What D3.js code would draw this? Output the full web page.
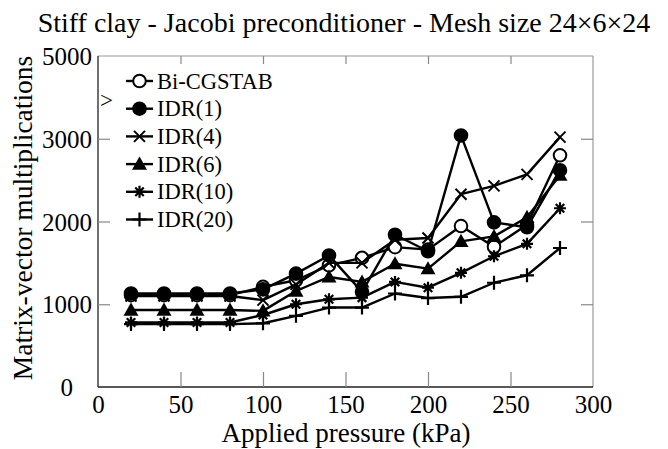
<!DOCTYPE html>
<html>
<head>
<meta charset="utf-8">
<script src="https://cdn.jsdelivr.net/npm/d3@7"></script>
<style>
  body { margin: 0; background: #fff; }
  svg { display: block; }
</style>
</head>
<body>
<svg id="chart" width="668" height="449"></svg>
<script>
// Applied pressure (kPa)
const pressures = [20, 40, 60, 80, 100, 120, 140, 160, 180, 200, 220, 240, 260, 280];

// Matrix-vector multiplications per method
const biCgstab = [1110, 1110, 1110, 1110, 1210, 1290, 1470, 1560, 1690, 1660, 1945, 1695, 1960, 2800];
const idr1 = [1130, 1130, 1130, 1130, 1180, 1370, 1590, 1150, 1840, 1640, 3040, 1990, 1930, 2620];
const idr4 = [1100, 1100, 1100, 1100, 1050, 1240, 1500, 1500, 1780, 1800, 2330, 2430, 2570, 3020];
const idr6 = [930, 930, 930, 930, 920, 1160, 1330, 1270, 1490, 1430, 1760, 1820, 2050, 2560];
const idr10 = [780, 780, 780, 780, 870, 1000, 1060, 1080, 1270, 1200, 1380, 1580, 1730, 2160];
const idr20 = [760, 760, 760, 760, 770, 860, 960, 960, 1130, 1075, 1090, 1260, 1350, 1680];

const seriesNames = ["Bi-CGSTAB", "IDR(1)", "IDR(4)", "IDR(6)", "IDR(10)", "IDR(20)"];
const seriesValues = [biCgstab, idr1, idr4, idr6, idr10, idr20];
const seriesMarkers = ["openCircle", "circle", "cross", "triangle", "star", "plus"];

const xTicks = [0, 50, 100, 150, 200, 250, 300];
const yTicks = [0, 1000, 2000, 3000, 4000];
const yTickLabels = ["0", "1000", "2000", "3000", "5000"]; // as printed on the original

const fontFamily = "Liberation Serif, Times New Roman, serif";

const margin = { left: 98, right: 75, top: 56, bottom: 62 };
const width = 668, height = 449;

const svg = d3.select("#chart").style("font-family", fontFamily);

const x = d3.scaleLinear().domain([0, 300]).range([margin.left, width - margin.right]);
const y = d3.scaleLinear().domain([0, 4000]).range([height - margin.bottom, margin.top]);

// frame (top and right in grey)
const frame = svg.append("g");
frame.append("line").attr("x1", x(0)).attr("x2", x(300)).attr("y1", y(4000)).attr("y2", y(4000))
  .attr("stroke", "#999").attr("stroke-width", 1.2);
frame.append("line").attr("x1", x(300)).attr("x2", x(300)).attr("y1", y(4000)).attr("y2", y(0))
  .attr("stroke", "#999").attr("stroke-width", 1.2);

// axes with inward ticks
const xAxisB = d3.axisBottom(x).tickValues(xTicks).tickSize(-15).tickPadding(8);
const gx = svg.append("g").attr("transform", `translate(0,${y(0)})`).call(xAxisB);
const xAxisT = d3.axisTop(x).tickValues(xTicks).tickSize(-8).tickFormat("");
const gxt = svg.append("g").attr("transform", `translate(0,${y(4000)})`).call(xAxisT);

const yAxisL = d3.axisLeft(y).tickValues(yTicks).tickSize(-12).tickPadding(6)
  .tickFormat((d, i) => yTickLabels[i]);
const gy = svg.append("g").attr("transform", `translate(${x(0)},0)`).call(yAxisL);
const yAxisR = d3.axisRight(y).tickValues(yTicks).tickSize(-12).tickFormat("");
const gyr = svg.append("g").attr("transform", `translate(${x(300)},0)`).call(yAxisR);

[gx, gxt, gy, gyr].forEach((g) => {
  g.select(".domain").remove();
  g.selectAll(".tick line").attr("stroke", "#888").attr("stroke-width", 1.2);
  g.selectAll(".tick text").attr("fill", "#000").style("font-size", "25px").style("font-family", fontFamily);
});
gy.selectAll(".tick").filter((d) => d === 0 || d === 4000).select("line").remove();
gyr.selectAll(".tick").filter((d) => d === 0 || d === 4000).select("line").remove();
gx.selectAll(".tick").filter((d) => d === 0 || d === 300).select("line").remove();
gxt.selectAll(".tick").filter((d) => d === 0 || d === 300).select("line").remove();
gy.selectAll(".tick text").attr("dy", "0.34em");
gy.selectAll(".tick").filter((d) => d === 0).select("text").attr("dx", "-19");

frame.append("line").attr("x1", x(0)).attr("x2", x(0)).attr("y1", y(4000)).attr("y2", y(0))
  .attr("stroke", "#222").attr("stroke-width", 1.3);
frame.append("line").attr("x1", x(0)).attr("x2", x(300)).attr("y1", y(0)).attr("y2", y(0))
  .attr("stroke", "#222").attr("stroke-width", 1.3);

// stray glyph near the top of the y axis
svg.append("text").attr("x", x(0) + 2).attr("y", 108).style("font-size", "23px").text(">");

// markers
function drawMarker(g, type, cx, cy) {
  if (type === "openCircle" || type === "circle") {
    g.append("circle").attr("cx", cx).attr("cy", cy).attr("r", 6.3)
      .attr("fill", type === "circle" ? "#000" : "#fff").attr("stroke", "#000").attr("stroke-width", 2);
  } else if (type === "triangle") {
    const s = 7.5;
    g.append("path").attr("d", `M${cx},${cy - s}L${cx + s},${cy + s * 0.75}L${cx - s},${cy + s * 0.75}Z`)
      .attr("fill", "#000");
  } else if (type === "cross") {
    const s = 5.5;
    g.append("path").attr("d", `M${cx - s},${cy - s}L${cx + s},${cy + s}M${cx - s},${cy + s}L${cx + s},${cy - s}`)
      .attr("stroke", "#000").attr("stroke-width", 2);
  } else if (type === "plus") {
    const s = 7;
    g.append("path").attr("d", `M${cx - s},${cy}L${cx + s},${cy}M${cx},${cy - s}L${cx},${cy + s}`)
      .attr("stroke", "#000").attr("stroke-width", 2.2);
  } else if (type === "star") {
    const s = 6;
    let d = "";
    for (let k = 0; k < 4; k++) {
      const a = (k * Math.PI) / 4;
      d += `M${cx - s * Math.cos(a)},${cy - s * Math.sin(a)}L${cx + s * Math.cos(a)},${cy + s * Math.sin(a)}`;
    }
    g.append("path").attr("d", d).attr("stroke", "#000").attr("stroke-width", 2.2);
  }
}

const line = d3.line().x((d) => x(d[0])).y((d) => y(d[1]));

const plot = svg.append("g");
seriesValues.forEach((vals, i) => {
  const pts = pressures.map((p, j) => [p, vals[j]]);
  const g = plot.append("g");
  g.append("path").datum(pts).attr("d", line).attr("fill", "none")
    .attr("stroke", "#000").attr("stroke-width", 2.4).attr("stroke-linejoin", "round");
  pts.forEach((p) => drawMarker(g, seriesMarkers[i], x(p[0]), y(p[1])));
});

// legend
const legend = svg.append("g");
const legendY0 = 81, legendStep = 27.7;
seriesNames.forEach((name, i) => {
  const ly = legendY0 + i * legendStep;
  legend.append("line").attr("x1", 126).attr("x2", 153).attr("y1", ly).attr("y2", ly)
    .attr("stroke", "#000").attr("stroke-width", 2.4);
  drawMarker(legend, seriesMarkers[i], 139.5, ly);
  legend.append("text").attr("x", 157).attr("y", ly).attr("dy", "0.34em")
    .style("font-size", "22.5px").text(name);
});

// title and axis labels
svg.append("text").attr("x", 344).attr("y", 32).attr("text-anchor", "middle")
  .style("font-size", "28px").text("Stiff clay - Jacobi preconditioner - Mesh size 24×6×24");
svg.append("text").attr("x", 346).attr("y", 442).attr("text-anchor", "middle")
  .style("font-size", "27px").text("Applied pressure (kPa)");
svg.append("text").attr("transform", `translate(32,${218}) rotate(-90)`).attr("text-anchor", "middle")
  .style("font-size", "27.5px").text("Matrix-vector multiplications");
</script>
</body>
</html>
